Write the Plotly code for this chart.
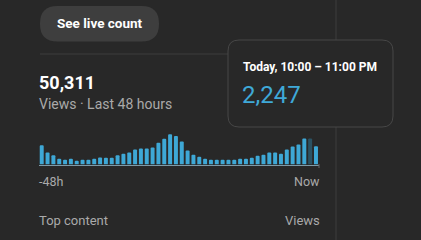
import plotly.graph_objects as go

W, H = 421, 240

# ---- data ----
hours = [f"-{48 - i}h" for i in range(48)]
views = [2370, 1460, 1120, 710, 580, 710, 460, 580, 580, 710,
         870, 830, 830, 1120, 1330, 1460, 1830, 1960, 1960, 2080,
         2660, 3160, 3700, 3500, 2830, 1710, 1210, 960, 710, 580,
         580, 580, 580, 580, 710, 710, 830, 1080, 1210, 1460,
         1460, 1330, 1830, 2210, 2460, 3200, 3200, 2247]
highlight_index = 46
total_views = "50,311"
subtitle = "Views · Last 48 hours"
axis_labels = ["-48h", "Now"]
tooltip_title = "Today, 10:00 – 11:00 PM"
tooltip_value = "2,247"
footer = ["Top content", "Views"]
button_text = "See live count"

BG = "#282828"
BAR = "#3ea8d6"
BAR_DARK = "#2b5263"
GRAY = "#aaaaaa"
LINE = "#3d3d3d"
FONT = "Roboto"

def px(x):
    return x / W

def py(y):
    return 1 - y / H

def rrect(x0, y0, x1, y1, r):
    X0, X1 = px(x0), px(x1)
    Y0, Y1 = py(y0), py(y1)
    rx, ry = r / W, r / H
    return (f"M {X0+rx},{Y0} L {X1-rx},{Y0} Q {X1},{Y0} {X1},{Y0-ry} "
            f"L {X1},{Y1+ry} Q {X1},{Y1} {X1-rx},{Y1} L {X0+rx},{Y1} "
            f"Q {X0},{Y1} {X0},{Y1+ry} L {X0},{Y0-ry} Q {X0},{Y0} {X0+rx},{Y0} Z")

colors = [BAR_DARK if i == highlight_index else BAR for i in range(len(views))]

fig = go.Figure(go.Bar(
    x=list(range(len(views))), y=views,
    marker=dict(color=colors, line=dict(width=0), cornerradius=1),
    width=0.68, hoverinfo="skip",
))

fig.update_layout(
    width=W, height=H, margin=dict(l=0, r=0, t=0, b=0),
    paper_bgcolor=BG, plot_bgcolor=BG, showlegend=False,
    xaxis=dict(domain=[px(38.8), px(318.9)], range=[-0.5, 47.5],
               showgrid=False, zeroline=False, showticklabels=False,
               showline=True, linecolor="#7d9aa8", linewidth=1, fixedrange=True),
    yaxis=dict(domain=[py(164.5), py(133.5)], range=[0, 3800],
               showgrid=False, zeroline=False, showticklabels=False,
               showline=False, fixedrange=True),
)

shapes = [
    dict(type="line", xref="paper", yref="paper", x0=px(336), x1=px(336), y0=0, y1=1,
         line=dict(color=LINE, width=1), layer="below"),
    dict(type="line", xref="paper", yref="paper", x0=px(40), x1=px(336), y0=py(54), y1=py(54),
         line=dict(color=LINE, width=1), layer="below"),
    dict(type="path", xref="paper", yref="paper", path=rrect(40, 6, 159, 41.5, 17.5),
         fillcolor="#3e3e3e", line=dict(width=0)),
    dict(type="line", xref="paper", yref="paper", x0=px(319), x1=px(319), y0=py(164), y1=py(168),
         line=dict(color="#666666", width=1)),
    dict(type="path", xref="paper", yref="paper", path=rrect(228, 40, 393, 127, 11),
         fillcolor=BG, line=dict(color="#474747", width=1), layer="above"),
]
fig.update_layout(shapes=shapes)

def ann(text, x, y, size, color, anchor="left", bold=False):
    return dict(text=f"<b>{text}</b>" if bold else text, x=px(x), y=py(y),
                xref="paper", yref="paper", xanchor=anchor, yanchor="middle",
                showarrow=False, font=dict(family=FONT, size=size, color=color))

fig.update_layout(annotations=[
    ann(button_text, 99.5, 23.5, 13.5, "#ffffff", "center", True),
    ann(total_views, 36.5, 82.5, 18, "#ffffff", bold=True),
    ann(subtitle, 36.5, 104, 14, GRAY),
    ann(axis_labels[0], 36.5, 181.5, 12.5, GRAY),
    ann(axis_labels[1], 321.5, 181.5, 12.5, GRAY, "right"),
    ann(footer[0], 36.5, 220.5, 13, GRAY),
    ann(footer[1], 321.5, 220.5, 13, GRAY, "right"),
    ann(tooltip_title, 240.5, 67, 12, "#ffffff", bold=True),
    ann(tooltip_value, 240, 94.5, 24, "#3fa9d8"),
])

fig.write_html("out.html", config={"displayModeBar": False})
